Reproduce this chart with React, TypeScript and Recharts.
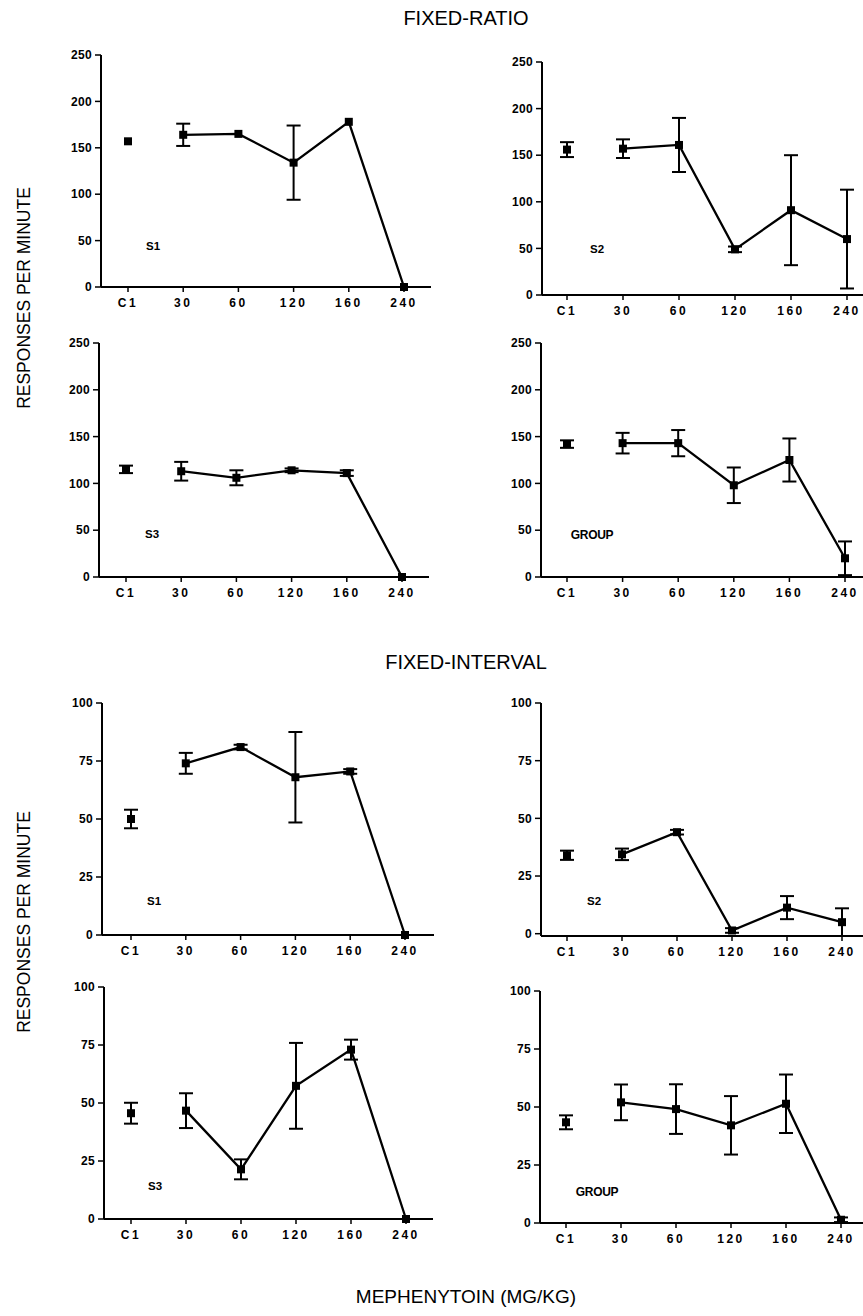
import * as React from 'react';
import { LineChart, Line, XAxis, YAxis, ErrorBar } from 'recharts';

// x categories shared by every panel
const doses = ['C1', '30', '60', '120', '160', '240'];

// fixed-ratio, responses per minute (mean and error)
const frS1Mean = [157, 164, 165, 134, 178, 0];
const frS1Err = [null, 12, null, 40, null, null];
const frS2Mean = [156, 157, 161, 49, 91, 60];
const frS2Err = [8, 10, 29, 3, 59, 53];
const frS3Mean = [115, 113, 106, 114, 111, 0];
const frS3Err = [4, 10, 8, 2, 3, null];
const frGroupMean = [142, 143, 143, 98, 125, 20];
const frGroupErr = [4, 11, 14, 19, 23, 18];

// fixed-interval
const fiS1Mean = [50, 74, 81, 68, 70.5, 0];
const fiS1Err = [4, 4.5, 1, 19.5, 1, null];
const fiS2Mean = [34, 34.4, 44, 1.4, 11.3, 5];
const fiS2Err = [2, 2.5, 1, 1, 5, 6];
const fiS3Mean = [45.6, 46.7, 21.4, 57.4, 73, 0];
const fiS3Err = [4.5, 7.5, 4.3, 18.5, 4.3, null];
const fiGroupMean = [43.4, 52, 49.1, 42.1, 51.4, 1.4];
const fiGroupErr = [3, 7.7, 10.7, 12.6, 12.6, 1];

const frTicks = [0, 50, 100, 150, 200, 250];
const fiTicks = [0, 25, 50, 75, 100];

const FONT = "'Liberation Sans', Arial, Helvetica, sans-serif";

const SquareDot = (props: any) => {
  const { cx, cy, index } = props;
  if (cx == null || cy == null) return <g key={`d-${index}`} />;
  return <rect key={`d-${index}`} x={cx - 4} y={cy - 4} width={8} height={8} fill="#000" />;
};

interface PanelProps {
  means: number[];
  errs: (number | null)[];
  label: string;
  ticks: number[];
  axisX: number;
  topY: number;
  zeroY: number;
  plotWidth: number;
  pad: number;
  labelX: number;
  labelY: number;
}

const Panel: React.FC<PanelProps> = ({ means, errs, label, ticks, axisX, topY, zeroY, plotWidth, pad, labelX, labelY }) => {
  const data = doses.map((dose, i) => ({
    dose,
    c: i === 0 ? means[i] : null,
    ce: i === 0 ? errs[i] : null,
    d: i > 0 ? means[i] : null,
    de: i > 0 ? errs[i] : null
  }));
  const yAxisW = 50;
  const mTop = 10;
  const xAxisH = 30;
  const plotH = zeroY - topY;
  return (
    <>
      <div style={{ position: 'absolute', left: axisX - yAxisW, top: topY - mTop }}>
        <LineChart
          width={yAxisW + plotWidth}
          height={plotH + mTop + xAxisH}
          data={data}
          margin={{ top: mTop, right: 0, bottom: 0, left: 0 }}
        >
          <XAxis
            dataKey="dose"
            interval={0}
            padding={{ left: pad, right: pad }}
            height={xAxisH}
            tickSize={5}
            tickMargin={6}
            axisLine={{ stroke: '#000', strokeWidth: 2 }}
            tickLine={{ stroke: '#000', strokeWidth: 1.5 }}
            tick={{ fontSize: 12, fontWeight: 700, fill: '#000', letterSpacing: 2.5, fontFamily: FONT }}
          />
          <YAxis
            width={yAxisW}
            domain={[0, ticks[ticks.length - 1]]}
            ticks={ticks}
            interval={0}
            tickSize={6}
            tickMargin={3}
            axisLine={{ stroke: '#000', strokeWidth: 2 }}
            tickLine={{ stroke: '#000', strokeWidth: 1.5 }}
            tick={{ fontSize: 12, fontWeight: 700, fill: '#000', letterSpacing: 0.3, fontFamily: FONT }}
          />
          <Line
            type="linear"
            dataKey="c"
            stroke="none"
            dot={SquareDot}
            activeDot={false}
            isAnimationActive={false}
          >
            <ErrorBar dataKey="ce" width={7} stroke="#000" strokeWidth={2} direction="y" />
          </Line>
          <Line
            type="linear"
            dataKey="d"
            stroke="#000"
            strokeWidth={2.3}
            dot={SquareDot}
            activeDot={false}
            isAnimationActive={false}
          >
            <ErrorBar dataKey="de" width={7} stroke="#000" strokeWidth={2} direction="y" />
          </Line>
        </LineChart>
      </div>
      <div
        style={{
          position: 'absolute',
          left: labelX,
          top: labelY,
          transform: 'translate(-50%, -50%)',
          fontSize: label === 'GROUP' ? 12 : 11.5,
          fontWeight: 700,
          letterSpacing: label === 'GROUP' ? -0.3 : 0,
          lineHeight: 1,
          whiteSpace: 'nowrap'
        }}
      >
        {label}
      </div>
    </>
  );
};

const Title = ({ text, x, y, size, rotate }: { text: string; x: number; y: number; size: number; rotate?: boolean }) => (
  <div
    style={{
      position: 'absolute',
      left: x,
      top: y,
      transform: rotate ? 'translate(-50%, -50%) rotate(-90deg)' : 'translate(-50%, -50%)',
      fontSize: size,
      lineHeight: 1,
      whiteSpace: 'nowrap'
    }}
  >
    {text}
  </div>
);

export default function App() {
  return (
    <div
      style={{
        position: 'absolute',
        left: 0,
        top: 0,
        width: 863,
        height: 1316,
        overflow: 'hidden',
        background: '#fff',
        color: '#000',
        fontFamily: FONT
      }}
    >
      <Title text="FIXED-RATIO" x={466} y={18} size={20} />
      <Title text="FIXED-INTERVAL" x={466} y={662} size={20} />
      <Title text="MEPHENYTOIN (MG/KG)" x={466} y={1296} size={19} />
      <Title text="RESPONSES PER MINUTE" x={25} y={298} size={17.5} rotate />
      <Title text="RESPONSES PER MINUTE" x={25} y={922} size={17.5} rotate />

      <Panel means={frS1Mean} errs={frS1Err} label="S1" ticks={frTicks}
        axisX={101} topY={55} zeroY={287} plotWidth={330} pad={27} labelX={153} labelY={247} />
      <Panel means={frS2Mean} errs={frS2Err} label="S2" ticks={frTicks}
        axisX={542} topY={62} zeroY={295} plotWidth={330} pad={25} labelX={597} labelY={250} />
      <Panel means={frS3Mean} errs={frS3Err} label="S3" ticks={frTicks}
        axisX={99} topY={343} zeroY={577} plotWidth={330} pad={27} labelX={152} labelY={535} />
      <Panel means={frGroupMean} errs={frGroupErr} label="GROUP" ticks={frTicks}
        axisX={541} topY={343} zeroY={577} plotWidth={330} pad={26} labelX={592} labelY={535} />

      <Panel means={fiS1Mean} errs={fiS1Err} label="S1" ticks={fiTicks}
        axisX={102} topY={703} zeroY={935} plotWidth={332} pad={29} labelX={154} labelY={902} />
      <Panel means={fiS2Mean} errs={fiS2Err} label="S2" ticks={fiTicks}
        axisX={541} topY={703} zeroY={936} plotWidth={327} pad={26} labelX={594} labelY={902} />
      <Panel means={fiS3Mean} errs={fiS3Err} label="S3" ticks={fiTicks}
        axisX={104} topY={987} zeroY={1219} plotWidth={329} pad={27} labelX={155} labelY={1187} />
      <Panel means={fiGroupMean} errs={fiGroupErr} label="GROUP" ticks={fiTicks}
        axisX={540} topY={991} zeroY={1223} plotWidth={327} pad={26} labelX={597} labelY={1192} />
    </div>
  );
}
